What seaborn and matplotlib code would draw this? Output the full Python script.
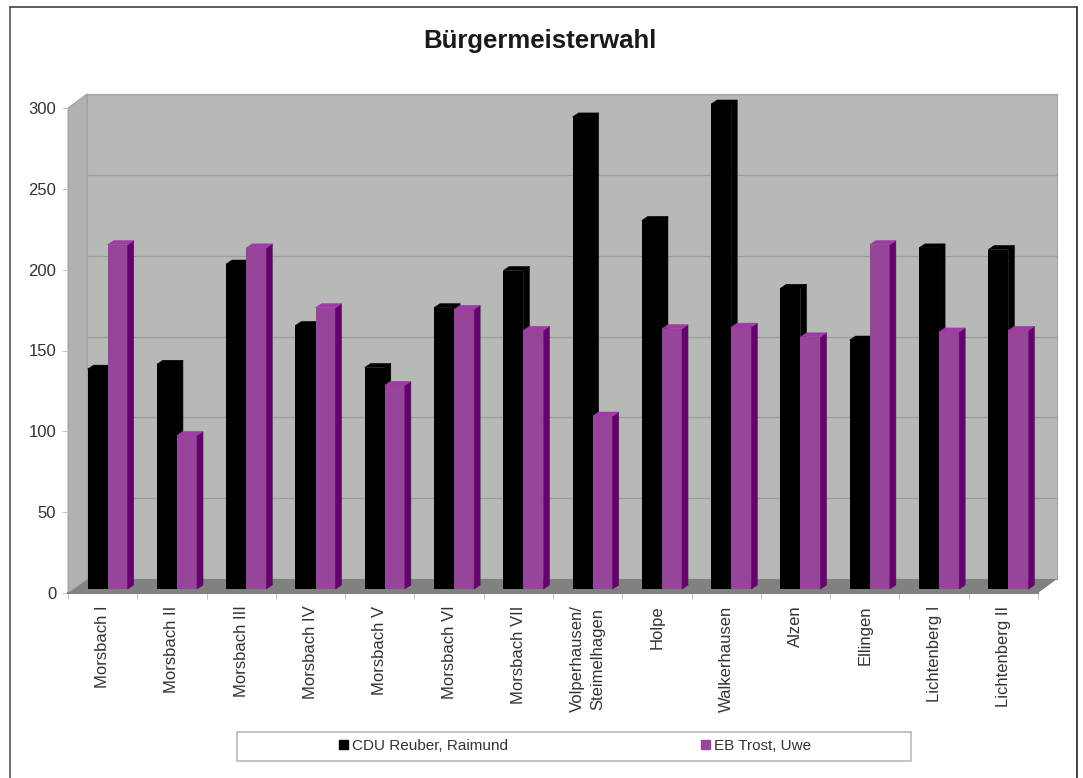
import matplotlib
matplotlib.use("Agg")
import matplotlib.pyplot as plt
import pandas as pd
import seaborn as sns

from matplotlib.patches import Polygon, Rectangle
from matplotlib.transforms import IdentityTransform

districts = [
    "Morsbach I", "Morsbach II", "Morsbach III", "Morsbach IV", "Morsbach V",
    "Morsbach VI", "Morsbach VII", "Volperhausen/\nSteimelhagen", "Holpe",
    "Walkerhausen", "Alzen", "Ellingen", "Lichtenberg I", "Lichtenberg II",
]
cdu_votes = [136, 139, 201, 163, 137, 174, 197, 292, 228, 300, 186, 154, 211, 210]
eb_votes = [213, 95, 211, 174, 126, 173, 160, 107, 161, 162, 156, 213, 159, 160]
y_ticks = [0, 50, 100, 150, 200, 250, 300]

W, H = 1083, 778
FRONT = (68, 1038, 593, 108)  # left, right, bottom, top in image pixels
WALL_DX, WALL_DY = 19, 14
BAR_DX, BAR_DY = 5, 4
SIDE_DX, SIDE_DY = 6, 4

WALL = "#b7b9b7"
WALL_SIDE = "#b0b2b0"
FLOOR = "#808280"
GRID = "#9a9d9a"
PURPLE = "#96459b"
PURPLE_SIDE = "#62046c"
PURPLE_TOP = "#a03aa6"
TEXT = "#333333"


def make_axes(fig, dx=0, dy=0):
    left, right, bottom, top = FRONT
    return fig.add_axes([
        (left + dx) / W, (H - bottom + dy) / H,
        (right - left) / W, (bottom - top) / H,
    ])


def shade(points, color, zorder=1, edge="none", lw=0.8):
    return Polygon(
        points, closed=True, facecolor=color, edgecolor=edge, linewidth=lw,
        transform=IdentityTransform(), zorder=zorder, clip_on=False,
    )


def main() -> None:
    sns.set_theme(style="white")
    plt.rcParams["font.family"] = ["Liberation Sans", "DejaVu Sans"]

    fig = plt.figure(figsize=(W / 100, H / 100), dpi=100, facecolor="white")

    # outer frame, open at the bottom edge like the scan
    fig.add_artist(plt.Line2D([9.5 / W, 9.5 / W], [0, 1 - 6.5 / H], color="#555555", lw=1.2))
    fig.add_artist(plt.Line2D([1077 / W, 1077 / W], [0, 1 - 6.5 / H], color="#222222", lw=1.2))
    fig.add_artist(plt.Line2D([9.5 / W, 1077 / W], [1 - 6.5 / H, 1 - 6.5 / H], color="#444444", lw=1.2))

    fig.text(540 / W, 1 - 41 / H, "Bürgermeisterwahl", ha="center", va="center",
             fontsize=18.5, fontweight="bold", color="#1a1a1a")

    # back wall with the gridlines
    back = make_axes(fig, WALL_DX, WALL_DY)
    back.set_zorder(-3)
    back.set_facecolor(WALL)
    back.set_xlim(0, len(districts))
    back.set_ylim(0, 300)
    back.set_yticks(y_ticks)
    back.set_xticks([])
    back.tick_params(left=False, labelleft=False)
    back.grid(axis="y", color=GRID, linewidth=0.9)
    back.set_axisbelow(True)
    for spine in back.spines.values():
        spine.set_color("#a2a4a2")
        spine.set_linewidth(0.8)

    # front axes carries the ticks and labels
    front = make_axes(fig, 0, 0)
    front.set_zorder(0)
    front.patch.set_alpha(0)
    front.set_xlim(0, len(districts))
    front.set_ylim(0, 300)
    front.set_yticks(y_ticks)
    front.set_xticks(range(len(districts) + 1))
    front.set_xticklabels([])
    front.tick_params(axis="both", length=4, width=0.7, color="#c4c4c4",
                      left=True, bottom=True, labelsize=12, labelcolor=TEXT, pad=4.5)
    for name in ("top", "right", "left"):
        front.spines[name].set_visible(False)
    front.spines["bottom"].set_color(FLOOR)
    front.spines["bottom"].set_linewidth(1.5)
    for i, name in enumerate(districts):
        front.annotate(name, (i + 0.5, 0), xycoords=("data", "axes fraction"),
                       xytext=(0, -9), textcoords="offset points", rotation=90,
                       ha="center", va="top", fontsize=12, color=TEXT,
                       multialignment="center", linespacing=1.45)

    # bars sit a little behind the front edge
    df = pd.DataFrame({
        "district": districts * 2,
        "votes": cdu_votes + eb_votes,
        "party": ["CDU Reuber, Raimund"] * len(districts) + ["EB Trost, Uwe"] * len(districts),
    })
    bars = make_axes(fig, BAR_DX, BAR_DY)
    bars.set_zorder(1)
    bars.patch.set_alpha(0)
    sns.barplot(data=df, x="district", y="votes", hue="party", ax=bars,
                palette=["#000000", PURPLE], width=0.58, saturation=1,
                dodge=True, legend=False, errorbar=None, zorder=5,
                edgecolor="none", linewidth=0)
    bars.set_xlim(-0.5, len(districts) - 0.5)
    bars.set_ylim(0, 300)
    bars.axis("off")

    # floor and side wall need pixel positions
    left, right, bottom, top = FRONT
    ybot, ytop = H - bottom, H - top
    fig.add_artist(shade([(left, ybot), (right, ybot), (right + WALL_DX, ybot + WALL_DY),
                          (left + WALL_DX, ybot + WALL_DY)], FLOOR, -2))
    fig.add_artist(shade([(left, ybot), (left + WALL_DX, ybot + WALL_DY),
                          (left + WALL_DX, ytop + WALL_DY), (left, ytop)], WALL_SIDE, -2,
                         edge="#a2a4a2"))

    # extrude each bar: side and top faces from its own drawn rectangle
    # black faces go under the bar fronts so the purple bar hides them
    fig.canvas.draw()
    for rect in bars.patches:
        if rect.get_height() <= 0:
            continue
        x0, y0 = bars.transData.transform((rect.get_x(), 0))
        x1, y1 = bars.transData.transform((rect.get_x() + rect.get_width(), rect.get_height()))
        is_black = rect.get_facecolor()[0] < 0.1
        side = "#000000" if is_black else PURPLE_SIDE
        top_face = "#000000" if is_black else PURPLE_TOP
        z = 4 if is_black else 6
        bars.add_artist(shade([(x1, y0), (x1 + SIDE_DX, y0 + SIDE_DY),
                               (x1 + SIDE_DX, y1 + SIDE_DY), (x1, y1)], side, z, edge=side, lw=0.4))
        bars.add_artist(shade([(x0, y1), (x1, y1), (x1 + SIDE_DX, y1 + SIDE_DY),
                               (x0 + SIDE_DX, y1 + SIDE_DY)], top_face, z, edge=top_face, lw=0.4))

    # legend box with a frameless legend on top
    fig.add_artist(Rectangle((237 / W, 1 - 761 / H), 674 / W, 29 / H, transform=fig.transFigure,
                             facecolor="white", edgecolor="#b8b8b8", linewidth=1.2))
    handles = [Rectangle((0, 0), 1, 1, color="#000000"), Rectangle((0, 0), 1, 1, color=PURPLE)]
    fig.legend(handles, ["CDU Reuber, Raimund", "EB Trost, Uwe"], ncols=2, frameon=False,
               loc="center", bbox_to_anchor=(575 / W, 1 - 746 / H), fontsize=11,
               labelcolor=TEXT, handlelength=0.6, handleheight=0.6, handletextpad=0.25,
               columnspacing=12.6)

    fig.savefig("out.png", dpi=100, facecolor="white")


if __name__ == "__main__":
    main()
